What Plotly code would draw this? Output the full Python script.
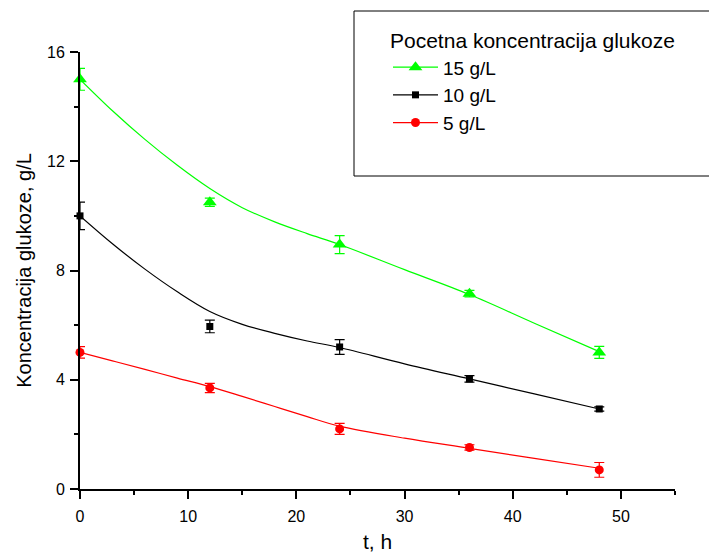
import plotly.graph_objects as go

# measured data
t_data = [0, 12, 24, 36, 48]
g15 = [15.0, 10.5, 8.95, 7.15, 5.0]
g15_err = [0.4, 0.15, 0.33, 0.12, 0.22]
g10 = [10.0, 5.95, 5.2, 4.03, 2.93]
g10_err = [0.5, 0.23, 0.27, 0.12, 0.08]
g5 = [5.0, 3.7, 2.2, 1.52, 0.7]
g5_err = [0.21, 0.17, 0.2, 0.1, 0.27]

# model curves
t_fit = [0, 3, 6, 9, 12, 15, 18, 21, 24, 30, 36, 42, 48]
fit15 = [15.0, 13.85, 12.8, 11.85, 11.0, 10.3, 9.78, 9.35, 8.95, 8.03, 7.12, 6.07, 5.03]
fit10 = [10.0, 8.98, 8.05, 7.22, 6.5, 6.03, 5.7, 5.42, 5.18, 4.58, 4.03, 3.48, 2.93]
fit5 = [5.0, 4.69, 4.38, 4.06, 3.75, 3.39, 3.02, 2.65, 2.3, 1.86, 1.49, 1.12, 0.76]

names = ["15 g/L", "10 g/L", "5 g/L"]
colors = ["#00FF00", "#000000", "#FF0000"]
symbols = ["triangle-up", "square", "circle"]
sizes = [12, 7, 9]

FONT = "Liberation Sans, Arial, sans-serif"

fig = go.Figure()
series = [(g15, g15_err, fit15), (g10, g10_err, fit10), (g5, g5_err, fit5)]
for (y, e, f), name, c, s, sz in zip(series, names, colors, symbols, sizes):
    fig.add_trace(go.Scatter(x=t_fit, y=f, mode="lines", line=dict(color=c, width=1.2, shape="spline", smoothing=1),
                             showlegend=False, hoverinfo="skip"))
    fig.add_trace(go.Scatter(x=t_data, y=y, mode="markers",
                             marker=dict(color=c, symbol=s, size=sz),
                             error_y=dict(type="data", array=e, color=c, thickness=1.2, width=5),
                             showlegend=False, cliponaxis=False))
    fig.add_trace(go.Scatter(x=[None], y=[None], mode="lines+markers", name=name,
                             line=dict(color=c, width=1.2),
                             marker=dict(color=c, symbol=s, size=sz)))

axis_common = dict(showline=True, linecolor="black", linewidth=2, ticks="outside", ticklen=8,
                   tickwidth=1.5, tickcolor="black", showgrid=False, zeroline=False,
                   tickfont=dict(family=FONT, size=16, color="black"),
                   mirror=False, automargin=False)

fig.update_xaxes(range=[0, 55], dtick=10, tick0=0, ticklabelstandoff=4,
                 minor=dict(dtick=5, ticks="outside", ticklen=4, tickcolor="black", tickwidth=1.5),
                 title=dict(text="t, h", font=dict(family=FONT, size=21, color="black"), standoff=10),
                 **axis_common)
fig.update_yaxes(range=[0, 16], dtick=4, tick0=0, ticklabelstandoff=2,
                 minor=dict(dtick=2, ticks="outside", ticklen=4, tickcolor="black", tickwidth=1.5),
                 title=dict(text="Koncentracija glukoze, g/L", font=dict(family=FONT, size=20, color="black"), standoff=10),
                 **axis_common)

fig.add_shape(type="rect", xref="paper", yref="paper", x0=(354 - 80) / 595, x1=(720 - 80) / 595,
              y0=(489 - 176) / 437, y1=(489 - 11) / 437, line=dict(color="black", width=1),
              fillcolor="rgba(0,0,0,0)", layer="above")

fig.update_layout(
    width=709, height=555,
    margin=dict(l=80, r=34, t=52, b=66),
    paper_bgcolor="white", plot_bgcolor="white",
    font=dict(family=FONT, color="black"),
    legend=dict(
        title=dict(text="Pocetna koncentracija glukoze", font=dict(family=FONT, size=21, color="black")),
        font=dict(family=FONT, size=19, color="black"),
        x=(388 - 80) / 595, y=(489 - 21) / 437, xanchor="left", yanchor="top",
        bgcolor="rgba(0,0,0,0)", borderwidth=0, tracegroupgap=0, itemwidth=45,
    ),
)

fig.write_html("out.html")
